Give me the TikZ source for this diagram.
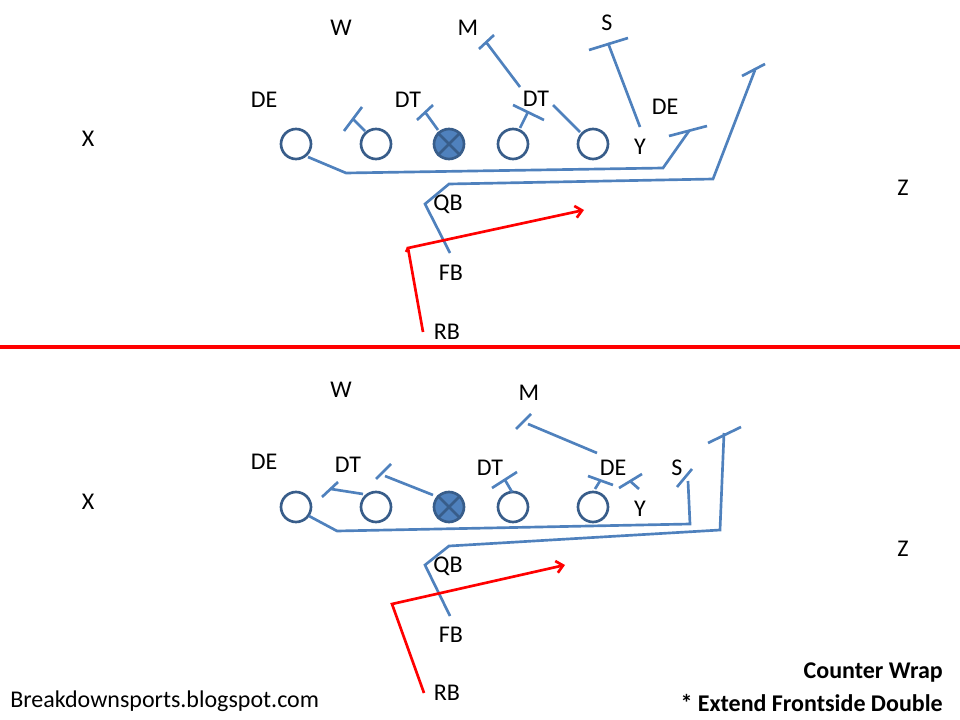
\documentclass[tikz,border=0pt]{standalone}
\usepackage{fontspec}
\setmainfont{Carlito}
\usetikzlibrary{arrows.meta}
\definecolor{pblue}{RGB}{79,129,189}
\definecolor{pdark}{RGB}{56,93,138}
\begin{document}
\begin{tikzpicture}[x=0.75pt,y=-0.75pt,
  lab/.style={font=\fontsize{18}{21}\selectfont, inner sep=0pt, anchor=center},
  note/.style={font=\fontsize{18}{21}\selectfont, inner sep=0pt},
  pl/.style={circle, draw=pdark, line width=2pt, minimum size=22.5pt, inner sep=0pt},
  ctr/.style={pl, fill=pblue},
  bl/.style={draw=pblue, line width=2pt, line join=miter},
  rd/.style={draw=red, line width=2pt},
  divider/.style={draw=red, line width=2.4pt}]
\useasboundingbox (0,0) rectangle (960,720);

% ================= TOP DIAGRAM =================
\node[pl]  (t1) at (296,144) {};
\node[pl]  (t2) at (376,144) {};
\node[ctr] (t3) at (449,144) {};
\node[pl]  (t4) at (513,144) {};
\node[pl]  (t5) at (593,144) {};
\draw[draw=pdark, line width=2pt] (t3.45) -- (t3.225) (t3.135) -- (t3.315);

\node[lab] (tW)   at (341,28)  {W};
\node[lab] (tM)   at (468,28)  {M};
\node[lab] (tS)   at (607,23)  {S};
\node[lab] (tDE1) at (264,100) {DE};
\node[lab] (tDT1) at (408,100) {DT};
\node[lab] (tDT2) at (536,99)  {DT};
\node[lab] (tDE2) at (665,107) {DE};
\node[lab] (tY)   at (640,147) {Y};
\node[lab] (tX)   at (88,139)  {X};
\node[lab] (tZ)   at (903,188) {Z};
\node[lab] (tQB)  at (448,204) {QB};
\node[lab] (tFB)  at (451,273) {FB};
\node[lab] (tRB)  at (447,332) {RB};

% tackle-to-guard wrap line
\draw[bl] (308,157) -- (346,173) -- (663,168) -- (689,131);
\draw[bl] (669,136) -- (707,126);
% QB/FB to Z line
\draw[bl] (450,253) -- (425,204) -- (449,184) -- (713,179) -- (755,70);
\draw[bl] (742,76) -- (765,64);
% blocks
\draw[bl] (365,131) -- (353,119);
\draw[bl] (344,131) -- (362,107);
\draw[bl] (438,130) -- (425,112);
\draw[bl] (417,120) -- (433,105);
\draw[bl] (520,87) -- (486,42);
\draw[bl] (479,49) -- (494,35);
\draw[bl] (520,128) -- (528,112);
\draw[bl] (513,105) -- (544,120);
\draw[bl] (580,132) -- (553,105);
\draw[bl] (640,127) -- (608,43);
\draw[bl] (589,50) -- (628,38);
% RB path
\draw[rd, -{Straight Barb[length=5pt,width=9pt]}] (423,332) -- (408,248) -- (584,210);
\draw[rd] (406,252) -- (408,248);

% divider
\coordinate (dl) at (0,347);
\coordinate (dr) at (960,347);
\draw[divider] (dl) -- (dr);

% ================= BOTTOM DIAGRAM =================
\node[pl]  (b1) at (296,507) {};
\node[pl]  (b2) at (376,507) {};
\node[ctr] (b3) at (449,507) {};
\node[pl]  (b4) at (513,507) {};
\node[pl]  (b5) at (593,507) {};
\draw[draw=pdark, line width=2pt] (b3.45) -- (b3.225) (b3.135) -- (b3.315);

\node[lab] (bW)   at (341,390) {W};
\node[lab] (bM)   at (529,393) {M};
\node[lab] (bDE1) at (264,462) {DE};
\node[lab] (bDT1) at (348,465) {DT};
\node[lab] (bDT2) at (490,468) {DT};
\node[lab] (bDE2) at (613,468) {DE};
\node[lab] (bS)   at (677,468) {S};
\node[lab] (bY)   at (640,509) {Y};
\node[lab] (bX)   at (88,502)  {X};
\node[lab] (bZ)   at (903,549) {Z};
\node[lab] (bQB)  at (448,566) {QB};
\node[lab] (bFB)  at (451,635) {FB};
\node[lab] (bRB)  at (447,693) {RB};

\draw[bl] (309,516) -- (337,531) -- (690,524) -- (688,481);
\draw[bl] (677,487) -- (692,469);
\draw[bl] (450,616) -- (425,565) -- (449,546) -- (720,530) -- (724,433);
\draw[bl] (708,443) -- (741,427);
% blocks
\draw[bl] (363,494) -- (331,489);
\draw[bl] (322,497) -- (338,482);
\draw[bl] (433,495) -- (385,476);
\draw[bl] (376,479) -- (391,464);
\draw[bl] (512,492) -- (505,480);
\draw[bl] (492,488) -- (517,472);
\draw[bl] (595,489) -- (600,481);
\draw[bl] (588,476) -- (613,485);
\draw[bl] (639,489) -- (630,481);
\draw[bl] (619,488) -- (642,474);
\draw[bl] (597,453) -- (528,424);
\draw[bl] (516,429) -- (531,414);
% RB path
\draw[rd, -{Straight Barb[length=5pt,width=9pt]}] (424,693) -- (392,604) -- (565,565);

% notes
\node[note, font=\fontsize{18}{21}\selectfont\bfseries, anchor=base east] (n1) at (943,678) {Counter Wrap};
\node[note, font=\fontsize{18}{21}\selectfont\bfseries, anchor=base east] (n2) at (943,711) {* Extend Frontside Double};
\node[note, anchor=base west] (n3) at (10,707) {Breakdownsports.blogspot.com};
\end{tikzpicture}
\end{document}
